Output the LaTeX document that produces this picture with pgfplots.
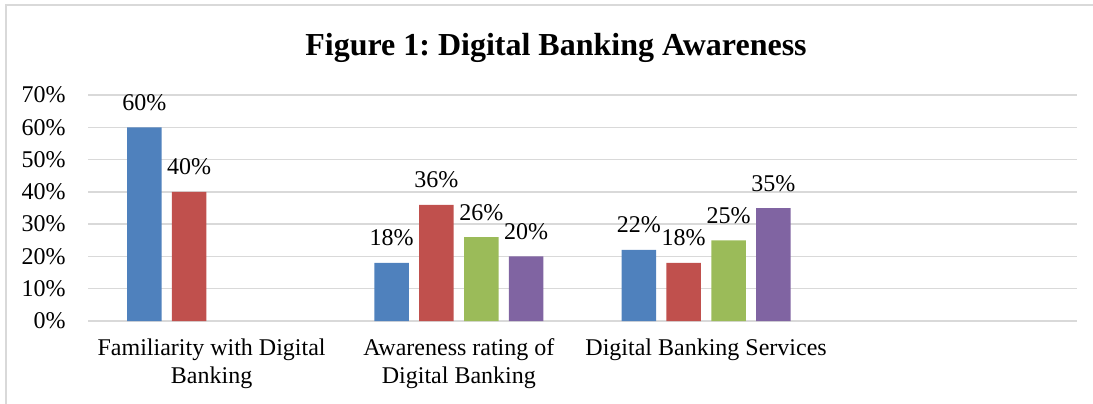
\documentclass[border=0pt]{standalone}
\usepackage{fontspec}
\setmainfont{Liberation Serif}
\usepackage{pgfplots}
\pgfplotsset{compat=1.18}
\definecolor{cblue}{HTML}{4F81BD}
\definecolor{cred}{HTML}{C0504D}
\definecolor{cgreen}{HTML}{9BBB59}
\definecolor{cpurple}{HTML}{8064A2}
\definecolor{gridgray}{HTML}{D9D9D9}
\frenchspacing
\begin{document}
\begin{tikzpicture}
\path[use as bounding box] (0,0) rectangle (546.5pt,201.5pt);
% chart frame (right and bottom edges fall outside the page)
\draw[gridgray, line width=0.8pt] (3pt,-5pt) -- (3pt,199pt) -- (560pt,199pt);
\node[anchor=base, font=\bfseries\fontsize{16}{19}\selectfont] at (278pt,173.75pt) {Figure 1: Digital Banking Awareness};
\begin{axis}[
    at={(44pt,41pt)}, anchor=south west,
    scale only axis, width=494.5pt, height=113pt,
    ybar=5.15pt, bar width=17.25pt,
    xmin=-0.5, xmax=3.5, ymin=0, ymax=70,
    xtick={0,1,2,3},
    xticklabels={Familiarity with Digital\\Banking, Awareness rating of\\Digital Banking, Digital Banking Services, {}},
    ytick={0,10,...,70},
    yticklabels={0\%,10\%,20\%,30\%,40\%,50\%,60\%,70\%},
    ymajorgrids, grid style={draw=gridgray, line width=0.75pt},
    axis line style={draw=none}, major tick length=0pt,
    tick label style={font=\fontsize{12}{14}\selectfont},
    xticklabel style={align=center, anchor=north, inner sep=0pt, yshift=-8.5pt},
    yticklabel style={anchor=east, inner sep=0pt, xshift=-11pt},
    /pgf/number format/assume math mode=true,
    nodes near coords={\pgfmathprintnumber{\pgfplotspointmeta}\%},
    every node near coord/.append style={font=\fontsize{12}{14}\selectfont, anchor=base, inner sep=0pt, yshift=8.5pt, text=black},
    clip=false,
]
\addplot[fill=cblue, draw=none] coordinates {(0,60) (1,18) (2,22)};
\addplot[fill=cred, draw=none] coordinates {(0,40) (1,36) (2,18)};
\addplot[fill=cgreen, draw=none] coordinates {(1,26) (2,25)};
\addplot[fill=cpurple, draw=none] coordinates {(1,20) (2,35)};
\end{axis}
\end{tikzpicture}
\end{document}
